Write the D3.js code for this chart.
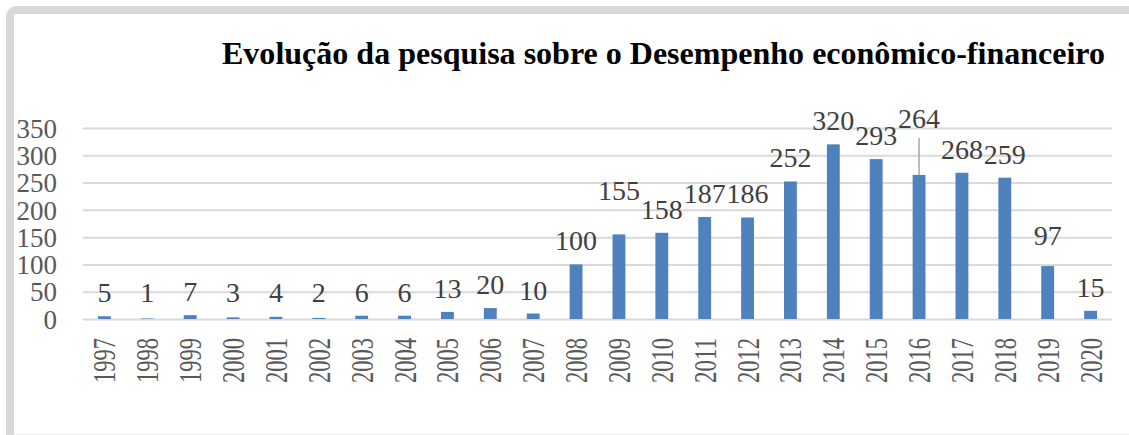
<!DOCTYPE html>
<html>
<head>
<meta charset="utf-8">
<script src="https://cdn.jsdelivr.net/npm/d3@7"></script>
<style>
  html, body { margin: 0; padding: 0; background: #fff; overflow: hidden; }
  svg { display: block; }
  text { font-family: "Liberation Serif", "Times New Roman", serif; }
</style>
</head>
<body>
<svg id="chart" width="1129" height="435"></svg>
<script>
const years = ["1997","1998","1999","2000","2001","2002","2003","2004","2005","2006","2007","2008","2009","2010","2011","2012","2013","2014","2015","2016","2017","2018","2019","2020"];
const counts = [5,1,7,3,4,2,6,6,13,20,10,100,155,158,187,186,252,320,293,264,268,259,97,15];
const yTicks = [0,50,100,150,200,250,300,350];
const title = "Evolução da pesquisa sobre o Desempenho econômico-financeiro";

const W = 1129, H = 435;
const svg = d3.select("#chart");

// frame
svg.append("rect").attr("x", 10).attr("y", 10).attr("width", 1300).attr("height", 600)
  .attr("rx", 6).attr("fill", "#fff").attr("stroke", "#d9d9d9").attr("stroke-width", 8);
svg.append("line").attr("x1", 14).attr("x2", W).attr("y1", 434.5).attr("y2", 434.5)
  .attr("stroke", "#f0f0f0").attr("stroke-width", 1);

const x = d3.scaleBand().domain(years).range([83, 1112]).paddingInner(0.7).paddingOuter(0.35);
const y = d3.scaleLinear().domain([0, 350]).range([319, 128]);

// title
svg.append("text").attr("x", 222).attr("y", 64)
  .attr("font-size", 32).attr("font-weight", "bold").attr("fill", "#000")
  .attr("textLength", 883).attr("lengthAdjust", "spacingAndGlyphs")
  .text(title);

// gridlines + y labels
const yAxis = d3.axisLeft(y).tickValues(yTicks).tickSize(-(1112 - 83)).tickPadding(26);
const gy = svg.append("g").attr("transform", "translate(83,0)").call(yAxis);
gy.select(".domain").remove();
gy.selectAll(".tick line").attr("stroke", "#d9d9d9").attr("stroke-width", 2);
gy.selectAll(".tick text").attr("font-size", 27).attr("fill", "#595959")
  .attr("font-family", "Liberation Serif, Times New Roman, serif").attr("dy", "0.34em");

// bars
svg.append("g").selectAll("rect").data(years).join("rect")
  .attr("x", d => x(d)).attr("width", x.bandwidth())
  .attr("y", (d, i) => y(counts[i])).attr("height", (d, i) => y(0) - y(counts[i]))
  .attr("fill", "#4f81bd");

// x labels
const xAxis = d3.axisBottom(x).tickSize(0).tickPadding(0);
const gx = svg.append("g").attr("transform", "translate(0,319)").call(xAxis);
gx.select(".domain").remove();
gx.selectAll(".tick text")
  .attr("font-size", 32).attr("fill", "#595959")
  .attr("font-family", "Liberation Serif, Times New Roman, serif")
  .attr("text-anchor", "end").attr("dy", null).attr("y", 0)
  .attr("transform", "translate(0,19) rotate(-90)")
  .attr("dominant-baseline", "central")
  .attr("textLength", 45).attr("lengthAdjust", "spacingAndGlyphs");

// data labels
const gap = 14;
const leaderYear = "2016";
const leaderLift = 47;
const labelNudge = { "2009": -20, "2019": -7 };
const lbl = svg.append("g");
years.forEach((yr, i) => {
  const cx = x(yr) + x.bandwidth() / 2;
  const top = y(counts[i]);
  let base = Math.min(top - gap, 302) + (labelNudge[yr] || 0);
  if (yr === leaderYear) {
    base = top - leaderLift;
    lbl.append("line").attr("x1", cx).attr("x2", cx).attr("y1", base + 10).attr("y2", top)
      .attr("stroke", "#a6a6a6").attr("stroke-width", 1.5);
  }
  lbl.append("text").attr("x", cx).attr("y", base).attr("text-anchor", "middle")
    .attr("font-size", 28).attr("fill", "#404040").text(counts[i]);
});
</script>
</body>
</html>
